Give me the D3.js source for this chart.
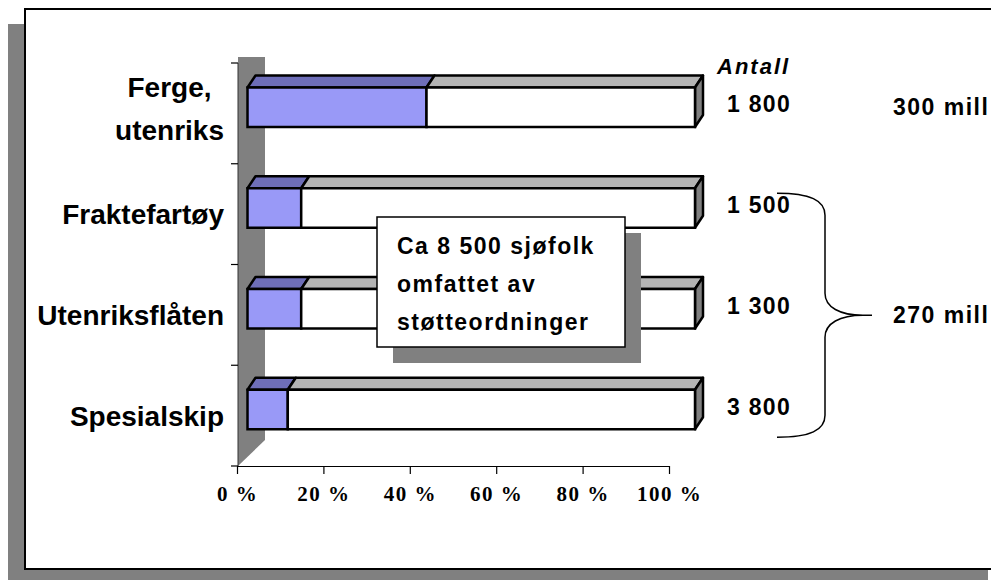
<!DOCTYPE html>
<html>
<head>
<meta charset="utf-8">
<script src="https://cdn.jsdelivr.net/npm/d3@7"></script>
<style>
  html, body { margin: 0; padding: 0; background: #ffffff; }
  svg { display: block; }
  .sans { font-family: "Liberation Sans", Arial, sans-serif; font-weight: bold; fill: #000; }
  .serif { font-family: "Liberation Serif", "Times New Roman", serif; font-weight: bold; fill: #000; }
</style>
</head>
<body>
<svg id="chart" width="991" height="580"></svg>
<script>
// categories (one entry per bar, split into label lines)
const categories = ["Ferge, utenriks", "Fraktefartøy", "Utenriksflåten", "Spesialskip"];
const categoryLines = [["Ferge,", "utenriks"], ["Fraktefartøy"], ["Utenriksflåten"], ["Spesialskip"]];

// 100 % stacked series
const supportShare = [40, 12, 12, 9];
const restShare = [60, 88, 88, 91];

// number of seafarers per group
const crewCount = [1800, 1500, 1300, 3800];

// cost annotations and which bars they cover
const costLabels = ["300 mill", "270 mill"];
const costSpans = [[0, 0], [1, 3]];

const xTicks = [0, 20, 40, 60, 80, 100];
const boxLines = ["Ca 8 500 sjøfolk", "omfattet av", "støtteordninger"];

const W = 991, H = 580;
const svg = d3.select("#chart");

// ---- frame with shadow ----
svg.append("rect").attr("x", 8).attr("y", 24).attr("width", 980).attr("height", 570).attr("fill", "#808080");
svg.append("rect").attr("x", 25).attr("y", 9).attr("width", 1000).attr("height", 560)
    .attr("fill", "#fff").attr("stroke", "#000").attr("stroke-width", 2);

// ---- scales ----
const y = d3.scaleBand().domain(d3.range(categories.length)).range([63, 466]);
const xAxisScale = d3.scaleLinear().domain([0, 100]).range([237, 669]);
const xBar = d3.scaleLinear().domain([0, 100]).range([247.5, 695]);
const depth = { dx: 8, dy: -12 };
const barOffset = 24.5, barH = 39.5;

const rows = categories.map((c, i) => ({ i: i, support: supportShare[i], rest: restShare[i] }));
const stacked = d3.stack().keys(["support", "rest"])(rows);

const fmt = d3.formatLocale({ decimal: ",", thousands: " ", grouping: [3], currency: ["", " kr"] }).format(",d");

// ---- back wall ----
const wallTop = y.range()[0] - 6, wallBottom = y.range()[1];
svg.append("path")
    .attr("d", `M${xAxisScale(0) + 1},${wallTop} L${xAxisScale(0) + 28},${wallTop} L${xAxisScale(0) + 28},${wallBottom - 26} L${xAxisScale(0) + 1},${wallBottom} Z`)
    .attr("fill", "#808080");

// ---- axes ----
const axisG = svg.append("g").attr("transform", `translate(0,${wallBottom})`)
    .call(d3.axisBottom(xAxisScale).tickValues(xTicks).tickFormat(d => d + " %").tickSize(8).tickSizeOuter(0));
axisG.select(".domain").attr("stroke", "#000").attr("stroke-width", 1.2);
axisG.selectAll(".tick line").attr("stroke", "#000").attr("stroke-width", 1.2);
axisG.selectAll(".tick text")
    .attr("class", "serif")
    .attr("y", 35).attr("dy", 0)
    .style("font-size", "21px")
    .style("letter-spacing", "1.5px");

// left axis: vertical line and ticks at band borders
const leftTicks = y.domain().map(d => y(d)).concat([wallBottom]);
svg.append("line").attr("x1", xAxisScale(0) + 1).attr("x2", xAxisScale(0) + 1)
    .attr("y1", leftTicks[0]).attr("y2", wallBottom).attr("stroke", "#333").attr("stroke-width", 1);
svg.selectAll("line.ltick").data(leftTicks).join("line").attr("class", "ltick")
    .attr("x1", xAxisScale(0) - 6).attr("x2", xAxisScale(0) + 1)
    .attr("y1", d => d).attr("y2", d => d)
    .attr("stroke", "#000").attr("stroke-width", 1.2);

// ---- 3D bars ----
const frontColor = ["#9999f7", "#ffffff"];
const topColor = ["#6e6eb8", "#b4b4b4"];
const barsG = svg.append("g");

stacked.forEach((layer, k) => {
    layer.forEach((seg, i) => {
        const x0 = xBar(seg[0]), x1 = xBar(seg[1]);
        const yt = y(i) + barOffset, yb = yt + barH;
        const g = barsG.append("g");
        g.append("path")
            .attr("d", `M${x0},${yt} L${x0 + depth.dx},${yt + depth.dy} L${x1 + depth.dx},${yt + depth.dy} L${x1},${yt} Z`)
            .attr("fill", topColor[k]).attr("stroke", "#000").attr("stroke-width", 2.5).attr("stroke-linejoin", "round");
        if (k === stacked.length - 1) {
            g.append("path")
                .attr("d", `M${x1},${yt} L${x1 + depth.dx},${yt + depth.dy} L${x1 + depth.dx},${yb + depth.dy} L${x1},${yb} Z`)
                .attr("fill", "#808080").attr("stroke", "#000").attr("stroke-width", 2.5).attr("stroke-linejoin", "round");
        }
        g.append("rect")
            .attr("x", x0).attr("y", yt).attr("width", x1 - x0).attr("height", barH)
            .attr("fill", frontColor[k]).attr("stroke", "#000").attr("stroke-width", 2.5);
    });
});

// ---- category labels ----
const labelRight = 224;
categoryLines.forEach((lines, i) => {
    const c = y(i) + y.bandwidth() / 2;
    const t = svg.append("g");
    if (lines.length === 1) {
        t.append("text").attr("class", "sans").attr("x", labelRight).attr("y", c + 10)
            .attr("text-anchor", "end").style("font-size", "28px").text(lines[0]);
    } else {
        const texts = lines.map((l, j) => t.append("text").attr("class", "sans")
            .attr("y", c - 16 + j * 43).style("font-size", "28px").attr("text-anchor", "middle").text(l));
        const maxW = d3.max(texts, s => s.node().getComputedTextLength());
        texts.forEach(s => s.attr("x", labelRight - maxW / 2));
    }
});

// ---- counts column ----
const countX = xBar(100) + 32;
svg.append("text").attr("class", "sans").attr("x", countX - 10).attr("y", y(0) + 11)
    .style("font-size", "22px").style("font-style", "italic").style("letter-spacing", "2px").text("Antall");
svg.selectAll("text.count").data(crewCount).join("text").attr("class", "sans count")
    .attr("x", countX)
    .attr("y", (d, i) => y(i) + barOffset + barH / 2 + 5)
    .style("font-size", "23px").style("letter-spacing", "1.3px")
    .text(d => fmt(d));

// ---- cost annotations ----
const costX = 893;
costSpans.forEach((span, k) => {
    const top = y(span[0]) + barOffset + 5, bot = y(span[1]) + barOffset + barH + 8;
    const mid = span[0] === span[1] ? y(span[0]) + barOffset + barH / 2 : (top + bot) / 2;
    if (span[0] !== span[1]) {
        const bx0 = xBar(100) + 82, bx1 = bx0 + 48, tip = bx1 + 38;
        svg.append("path")
            .attr("d", `M${bx0},${top} C${bx0 + 33},${top} ${bx1},${top + 7} ${bx1},${top + 22}
                L${bx1},${mid - 22} C${bx1},${mid - 8} ${bx1 + 15},${mid} ${tip},${mid}
                C${bx1 + 15},${mid} ${bx1},${mid + 8} ${bx1},${mid + 22}
                L${bx1},${bot - 22} C${bx1},${bot - 7} ${bx0 + 33},${bot} ${bx0},${bot}
                M${tip},${mid} L${tip + 9},${mid}`)
            .attr("fill", "none").attr("stroke", "#000").attr("stroke-width", 1.5);
    }
    svg.append("text").attr("class", "sans").attr("x", costX).attr("y", mid + 8)
        .style("font-size", "23px").style("letter-spacing", "1.5px").text(costLabels[k]);
});

// ---- text box with shadow ----
const box = { x: 377, y: 217, w: 248, h: 130 };
svg.append("rect").attr("x", box.x + 16).attr("y", box.y + 16).attr("width", box.w).attr("height", box.h).attr("fill", "#808080");
svg.append("rect").attr("x", box.x).attr("y", box.y).attr("width", box.w).attr("height", box.h)
    .attr("fill", "#fff").attr("stroke", "#000").attr("stroke-width", 1.5);
svg.selectAll("text.box").data(boxLines).join("text").attr("class", "sans box")
    .attr("x", box.x + 20).attr("y", (d, i) => box.y + 37 + i * 38)
    .style("font-size", "23px").style("letter-spacing", "1.5px")
    .text(d => d);
</script>
</body>
</html>
